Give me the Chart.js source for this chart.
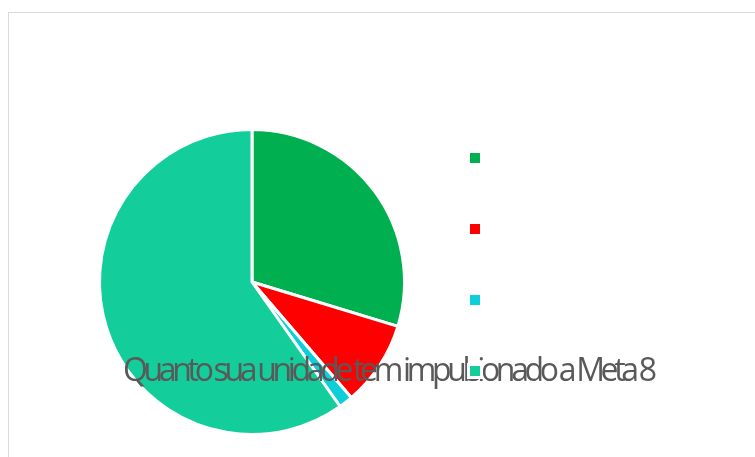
<!DOCTYPE html>
<html>
<head>
<meta charset="utf-8">
<script src="https://cdn.jsdelivr.net/npm/chart.js@4/dist/chart.umd.min.js"></script>
<style>
  html, body { margin: 0; padding: 0; background: #ffffff; overflow: hidden; width: 755px; height: 457px; }
  #frame { position: absolute; left: 8px; top: 12px; width: 800px; height: 500px; border: 1px solid #d9d9d9; box-sizing: border-box; }
  #c { position: absolute; left: 0; top: 0; }
</style>
</head>
<body>
<div id="frame"></div>
<canvas id="c" width="755" height="480"></canvas>
<script>
// ---- data ----
const categories = ['', '', '', ''];
const values = [29.7, 9.0, 1.5, 59.8];
const colors = ['#00B050', '#FF0000', '#0DCFDA', '#13CE9A'];
const chartTitle = 'Quanto sua unidade tem impulsionado a Meta 8';

const overlayTitle = {
  id: 'overlayTitle',
  afterDatasetsDraw(chart) {
    const ctx = chart.ctx;
    ctx.save();
    ctx.font = "400 32px 'Open Sans'";
    ctx.fillStyle = '#595959';
    ctx.textBaseline = 'alphabetic';
    ctx.textAlign = 'left';
    ctx.letterSpacing = '0px';
    const natural = ctx.measureText(chartTitle).width;
    const targetWidth = 534;
    const ls = (targetWidth - natural) / (chartTitle.length - 1);
    ctx.letterSpacing = ls + 'px';
    ctx.fillText(chartTitle, 123, 381);
    ctx.restore();
  },
  afterDraw(chart) {
    if (chart.legend) chart.legend.draw();
  }
};

new Chart(document.getElementById('c'), {
  type: 'pie',
  data: {
    labels: categories,
    datasets: [{
      data: values,
      backgroundColor: colors,
      borderColor: '#ffffff',
      borderWidth: 3,
      hoverOffset: 0,
      radius: 152.5
    }]
  },
  options: {
    responsive: false,
    animation: false,
    layout: { padding: { left: 93.5, right: 257.5, top: 93.5, bottom: 9.5 } },
    plugins: {
      legend: {
        position: 'right',
        align: 'start',
        labels: { boxWidth: 13, boxHeight: 13, padding: 58, color: '#595959' }
      },
      title: { display: false },
      tooltip: { enabled: false }
    }
  },
  plugins: [overlayTitle]
});
</script>
</body>
</html>
